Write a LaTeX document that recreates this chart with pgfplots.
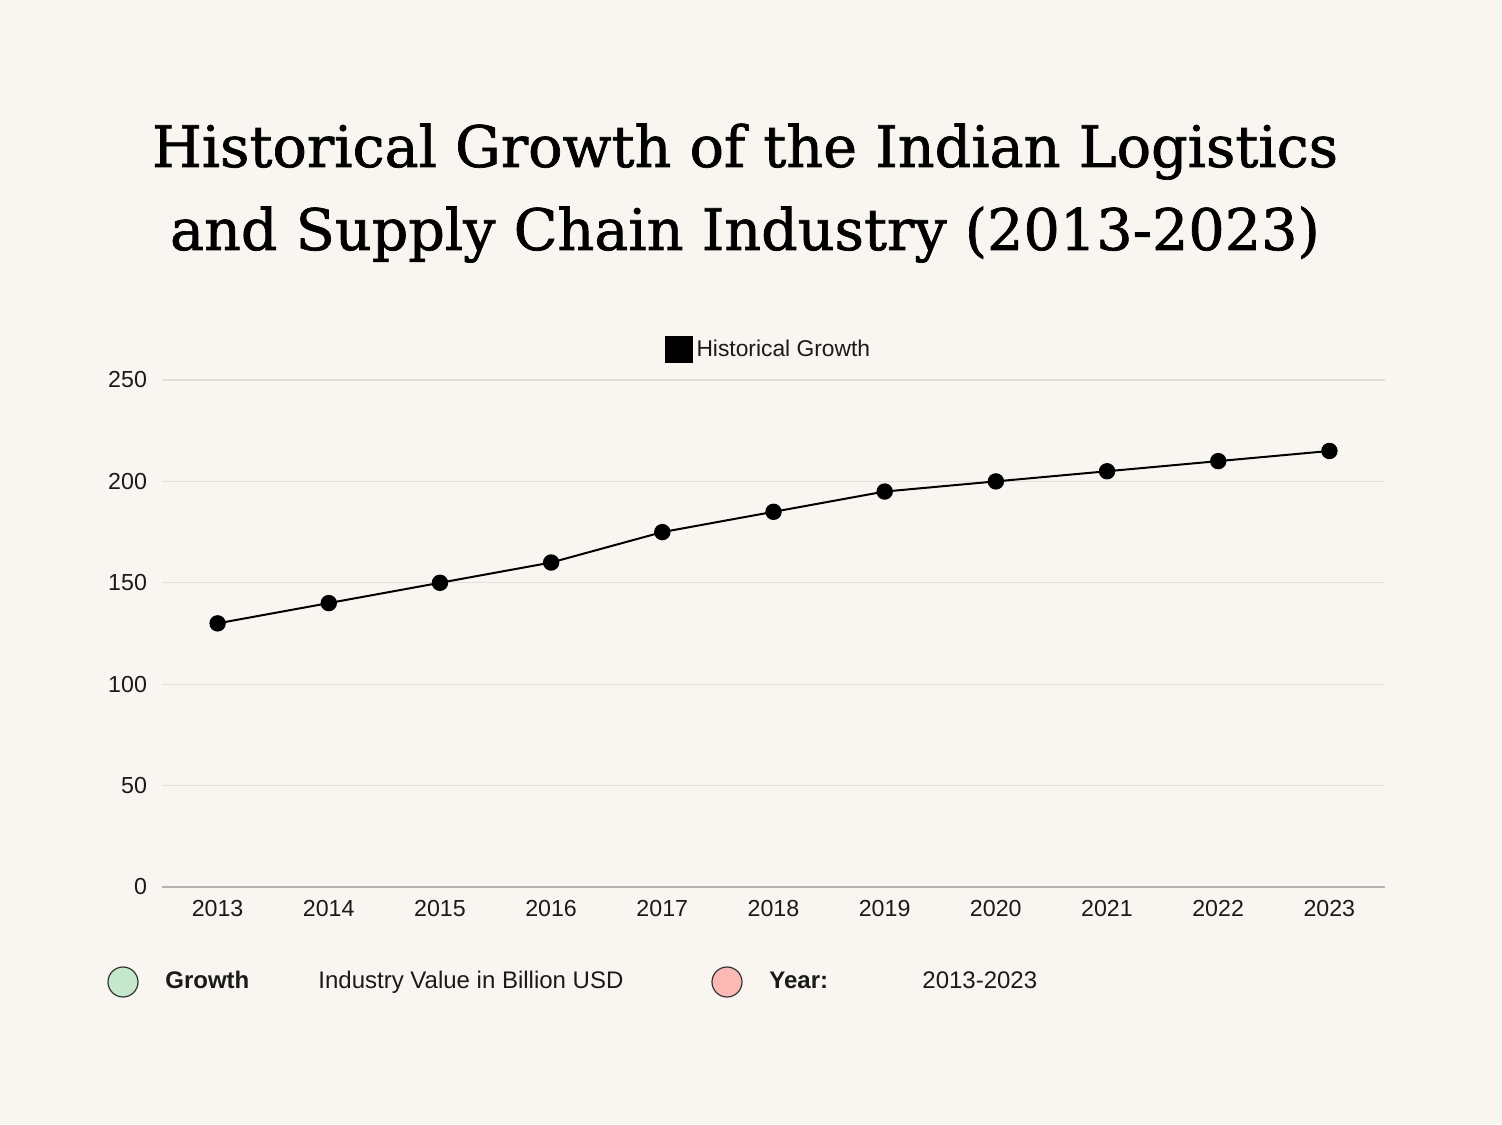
\documentclass[border=0pt]{standalone}
\usepackage{pgfplots}
\pgfplotsset{compat=1.18}
\usepackage{fontspec}
\setmainfont{Liberation Sans}
\newfontfamily\titlefont[FakeBold=1.2]{DejaVu Serif}
\definecolor{bg}{HTML}{F9F6F1}
\definecolor{gridc}{HTML}{E2DFDA}
\definecolor{axisc}{HTML}{B5B3B0}
\definecolor{txt}{HTML}{1A1A1A}
\definecolor{greenc}{HTML}{C5E8CC}
\definecolor{pinkc}{HTML}{FBB9B5}
\begin{document}
\begin{tikzpicture}
\fill[bg] (0,0) rectangle (751pt,562pt);
\node[anchor=base, font=\titlefont\fontsize{28.6}{34}\selectfont, text=black] at (372.5pt,478.5pt) {Historical Growth of the Indian Logistics};
\node[anchor=base, font=\titlefont\fontsize{28.6}{34}\selectfont, text=black] at (372.5pt,437pt) {and Supply Chain Industry (2013-2023)};
\begin{axis}[
  at={(81pt,118.5pt)}, anchor=south west,
  scale only axis, width=611.5pt, height=253.5pt,
  xmin=2012.5, xmax=2023.5, ymin=0, ymax=250,
  xtick={2013,...,2023}, ytick={0,50,...,250},
  xticklabel style={/pgf/number format/set thousands separator={}, font=\fontsize{11.6}{13}\selectfont, text=txt, yshift=-3pt},
  yticklabel style={font=\fontsize{11.6}{13}\selectfont, text=txt, xshift=-4pt},
  /pgf/number format/assume math mode=true,
  axis x line*=bottom, axis y line*=left,
  x axis line style={draw=axisc, line width=0.6pt, -},
  y axis line style={draw=none},
  major tick length=0pt,
  ymajorgrids, grid style={gridc, line width=0.6pt},
  legend style={at={(0.5,1.0)}, anchor=south, draw=none, fill=none, font=\fontsize{11.4}{13}\selectfont, text=txt, yshift=6pt, xshift=-2pt},
  legend image code/.code={\fill[black] (-0.05cm,-0.22cm) rectangle (0.4cm,0.22cm);},
]
\addplot[black, line width=1pt, mark=*, mark size=3.6pt] coordinates {
(2013,130) (2014,140) (2015,150) (2016,160) (2017,175) (2018,185) (2019,195) (2020,200) (2021,205) (2022,210) (2023,215)
};
\addlegendentry{Historical Growth}
\end{axis}
\draw[fill=greenc, draw=black!80, line width=0.6pt] (61.5pt,71pt) circle (7.5pt);
\node[anchor=base west, inner sep=0pt, font=\bfseries\fontsize{12}{14}\selectfont, text=txt] at (82.5pt,68pt) {Growth};
\node[anchor=base west, inner sep=0pt, font=\fontsize{12}{14}\selectfont, text=txt] at (159pt,68pt) {Industry Value in Billion USD};
\draw[fill=pinkc, draw=black!80, line width=0.6pt] (363.5pt,71pt) circle (7.5pt);
\node[anchor=base west, inner sep=0pt, font=\bfseries\fontsize{12}{14}\selectfont, text=txt] at (384.5pt,68pt) {Year:};
\node[anchor=base west, inner sep=0pt, font=\fontsize{12}{14}\selectfont, text=txt] at (461pt,68pt) {2013-2023};
\end{tikzpicture}
\end{document}
